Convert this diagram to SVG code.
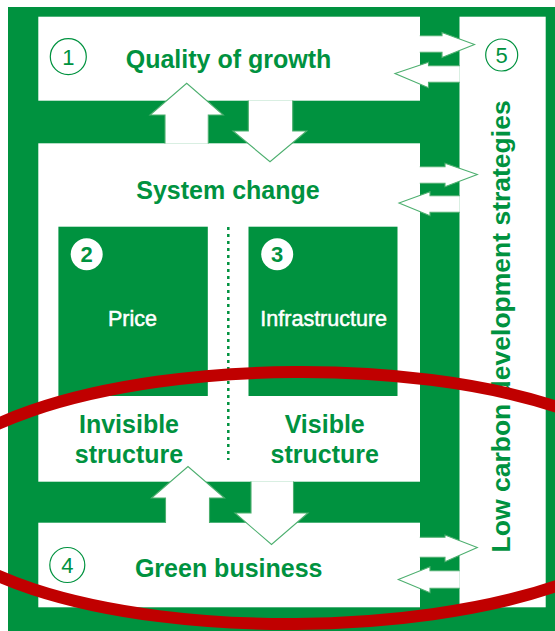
<svg xmlns="http://www.w3.org/2000/svg" width="555" height="631" viewBox="0 0 555 631">
<style>
.bg{fill:#00923F}
.wbox{fill:#ffffff}
.gbox{fill:#00923F}
.lbl{font-family:"Liberation Sans",Arial,sans-serif;font-weight:bold;fill:#00923F;text-anchor:middle;font-size:25px}
.wl{font-family:"Liberation Sans",Arial,sans-serif;fill:#ffffff;stroke:#ffffff;stroke-width:0.5;font-size:21.5px;text-anchor:middle}
.num{font-family:"Liberation Sans",Arial,sans-serif;font-size:22px;fill:#00923F;text-anchor:middle}
.numb{font-family:"Liberation Sans",Arial,sans-serif;font-size:22px;font-weight:bold;fill:#00923F;text-anchor:middle}
.ring{fill:none;stroke:#00923F;stroke-width:1.2}
.wring{fill:#ffffff}
.arrow{fill:#ffffff;stroke:#4DAF6F;stroke-width:1.1}
.dots{stroke:#00923F;stroke-width:2.5;stroke-dasharray:3 4}
.oval{fill:none;stroke:#C00000;stroke-width:12}
</style>
<rect id="frame" class="bg" x="8" y="7" width="547" height="624"/>
<g id="quality-of-growth">
<rect class="wbox" x="38.3" y="16.7" width="381.7" height="84"/>
<circle class="ring" cx="68.3" cy="56.7" r="18"/>
<text class="num" x="68.3" y="64.6">1</text>
<text class="lbl" x="228.5" y="68.3">Quality of growth</text>
</g>
<g id="system-change">
<rect class="wbox" x="38.3" y="143.3" width="381.7" height="338.4"/>
<text class="lbl" x="228" y="199.3">System change</text>
<line class="dots" x1="228.3" y1="227" x2="228.3" y2="460"/>
<text class="lbl" x="129" y="433">Invisible</text>
<text class="lbl" x="129" y="462.7">structure</text>
<text class="lbl" x="324.7" y="433">Visible</text>
<text class="lbl" x="324.7" y="462.7">structure</text>
</g>
<g id="price">
<rect class="gbox" x="58.4" y="226.7" width="149.4" height="169.3"/>
<circle class="wring" cx="86.7" cy="254.3" r="16"/>
<text class="numb" x="86.7" y="262.2">2</text>
<text class="wl" x="132.5" y="326">Price</text>
</g>
<g id="infrastructure">
<rect class="gbox" x="248.5" y="226.7" width="149" height="169.3"/>
<circle class="wring" cx="277.2" cy="254.3" r="16"/>
<text class="numb" x="277.2" y="262.2">3</text>
<text class="wl" x="323.7" y="326">Infrastructure</text>
</g>
<g id="green-business">
<rect class="wbox" x="38.3" y="522.7" width="381.7" height="84.6"/>
<circle class="ring" cx="67.3" cy="565" r="17.5"/>
<text class="num" x="67.3" y="572.9">4</text>
<text class="lbl" x="228.7" y="576.7">Green business</text>
</g>
<g id="low-carbon-strategies">
<rect class="wbox" x="459.5" y="16.7" width="86.2" height="590.6"/>
<circle class="ring" cx="501.7" cy="55" r="16"/>
<text class="num" x="501.7" y="62.9">5</text>
<text class="lbl" transform="translate(510 326.4) rotate(-90)" x="0" y="0" style="font-size:26.5px">Low carbon development strategies</text>
</g>
<g id="connectors">
<path class="arrow" d="M165,143.5 V115 H150 L186.7,83.3 L223.3,115 H208.3 V143.5"/>
<path class="arrow" d="M248.3,100.5 V131 H233 L270,161.7 L306.7,131 H292.7 V100.5"/>
<path class="arrow" d="M165.5,522.9 V498 H151.5 L188,466.5 L224.5,498 H209.5 V522.9"/>
<path class="arrow" d="M251,481.5 V513 H235 L271.5,544.5 L308,513 H293.5 V481.5"/>
<path class="arrow" d="M419.8,35.7 H442 V32.5 L474.5,44.5 L442,57.5 V52.3 H419.8"/>
<path class="arrow" d="M459.7,65.7 H428.5 V62.3 L395,73.5 L428.5,87.7 V82.3 H459.7"/>
<path class="arrow" d="M419.8,166.7 H445 V163.3 L477.3,174.5 L445,186.7 V183.3 H419.8"/>
<path class="arrow" d="M459.7,195.7 H430 V191.7 L399,203 L430,215.7 V212.3 H459.7"/>
<path class="arrow" d="M419.8,537.3 H445 V535 L477.3,547.5 L445,561.7 V557.3 H419.8"/>
<path class="arrow" d="M459.7,570.7 H430 V566.7 L398.3,579.5 L430,592.7 V588.3 H459.7"/>
</g>
<ellipse id="highlight" class="oval" cx="295" cy="498" rx="372" ry="126" transform="rotate(-0.4 295 498)"/>
</svg>
